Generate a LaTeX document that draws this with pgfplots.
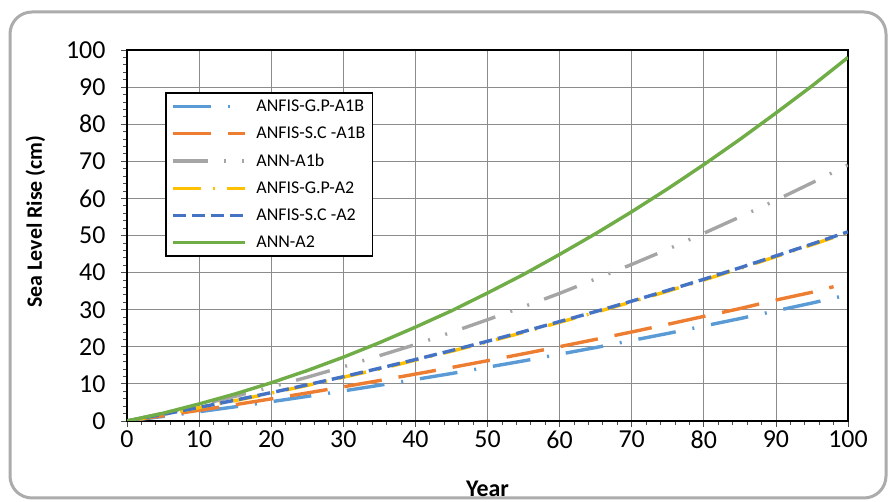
\documentclass[border=0pt]{standalone}
\usepackage{pgfplots}
\pgfplotsset{compat=1.18}
\usepackage{fontspec}
\setmainfont{Carlito}

\definecolor{cBlue}{HTML}{5B9BD5}
\definecolor{cOrange}{HTML}{ED7D31}
\definecolor{cGray}{HTML}{A5A5A5}
\definecolor{cYellow}{HTML}{FFC000}
\definecolor{cDark}{HTML}{4472C4}
\definecolor{cGreen}{HTML}{70AD47}

\begin{document}
\begin{tikzpicture}
\useasboundingbox (0,0) rectangle (894bp,502bp);
\fill[white] (0,0) rectangle (894bp,502bp);
\draw[gray!65, line width=3bp, rounded corners=22bp] (10bp,4bp) rectangle (886bp,490bp);
\begin{axis}[
  at={(127bp,81bp)}, anchor=south west,
  scale only axis, width=721bp, height=371bp,
  xmin=0, xmax=100, ymin=0, ymax=100,
  xtick={0,10,...,100}, ytick={0,10,...,100},
  minor tick num=4,
  tick pos=left, tick align=outside,
  major tick length=6bp, minor tick length=4bp,
  tick style={black!70, line width=0.8bp},
  grid=major, major grid style={black!45, line width=0.8bp},
  axis line style={black, line width=1.6bp},
  tick label style={font=\fontsize{26}{28}\selectfont},
  yticklabel style={xshift=-12bp},
  /pgf/number format/assume math mode=true,
  xlabel={\bfseries Year},
  ylabel={\bfseries Sea Level Rise (cm)},
  xlabel style={font=\fontsize{24}{26}\selectfont, yshift=-26bp},
  ylabel style={font=\fontsize{22}{24}\selectfont, yshift=14bp, xshift=14bp},
  legend style={at={(0.053,0.887)}, anchor=north west, draw=black, line width=1.6bp,
    fill=white, font=\fontsize{18}{20}\selectfont, row sep=10bp, inner sep=5bp,
    cells={anchor=west}},
  legend image code/.code={\draw[#1] (0bp,0bp) -- (72bp,0bp); \path (80bp,0bp);},
  every axis plot/.append style={line width=3.4bp},
]
\addplot[cBlue, dash pattern=on 38bp off 17bp on 2bp off 17bp] coordinates {
 (0,0) (5,1.23) (10,2.5) (15,3.83) (20,5.2) (25,6.63) (30,8.1) (35,9.63) (40,11.2) (45,12.8) (50,14.5)
 (55,16.2) (60,18.0) (65,19.8) (70,21.7) (75,23.6) (80,25.6) (85,27.6) (90,29.7) (95,31.8) (100,34.0) };
\addlegendentry{ANFIS-G.P-A1B}
\addplot[cOrange, dash pattern=on 38bp off 17bp] coordinates {
 (0,0) (5,1.42) (10,2.89) (15,4.40) (20,5.96) (25,7.56) (30,9.21) (35,10.9) (40,12.64) (45,14.42) (50,16.25)
 (55,18.12) (60,20.04) (65,22.0) (70,24.0) (75,26.06) (80,28.2) (85,30.3) (90,32.6) (95,34.7) (98,36.2) };
\addlegendentry{ANFIS-S.C -A1B}
\addplot[cGray, dash pattern=on 35bp off 16bp on 2bp off 16bp on 2bp off 16bp] coordinates {
 (0,0) (5,2.07) (10,4.29) (15,6.65) (20,9.16) (25,11.8) (30,14.6) (35,17.6) (40,20.6) (45,23.9) (50,27.3)
 (55,30.8) (60,34.4) (65,38.3) (70,42.2) (75,46.3) (80,50.6) (85,55.0) (90,59.5) (95,64.2) (100,69.0) };
\addlegendentry{ANN-A1b}
\addplot[cYellow, dash pattern=on 28bp off 12bp on 2bp off 12bp] coordinates {
 (0,0) (5,1.75) (10,3.6) (15,5.5) (20,7.5) (25,9.6) (30,11.8) (35,14.0) (40,16.4) (45,18.8) (50,21.3)
 (55,23.9) (60,26.6) (65,29.3) (70,32.1) (75,35.0) (80,38.0) (85,41.1) (90,44.3) (95,47.5) (100,50.8) };
\addlegendentry{ANFIS-G.P-A2}
\addplot[cDark, dash pattern=on 13bp off 6bp] coordinates {
 (0,0) (5,1.79) (10,3.66) (15,5.61) (20,7.64) (25,9.75) (30,11.94) (35,14.21) (40,16.56) (45,18.99) (50,21.5)
 (55,24.1) (60,26.8) (65,29.5) (70,32.3) (75,35.2) (80,38.2) (85,41.3) (90,44.5) (95,47.7) (100,51.0) };
\addlegendentry{ANFIS-S.C -A2}
\addplot[cGreen] coordinates {
 (0,0) (5,2.1) (10,4.6) (15,7.3) (20,10.3) (25,13.6) (30,17.2) (35,21.1) (40,25.3) (45,29.7) (50,34.5)
 (55,39.5) (60,44.9) (65,50.5) (70,56.4) (75,62.6) (80,69.1) (85,75.9) (90,83.0) (95,90.3) (100,98.0) };
\addlegendentry{ANN-A2}
\end{axis}
\end{tikzpicture}
\end{document}
